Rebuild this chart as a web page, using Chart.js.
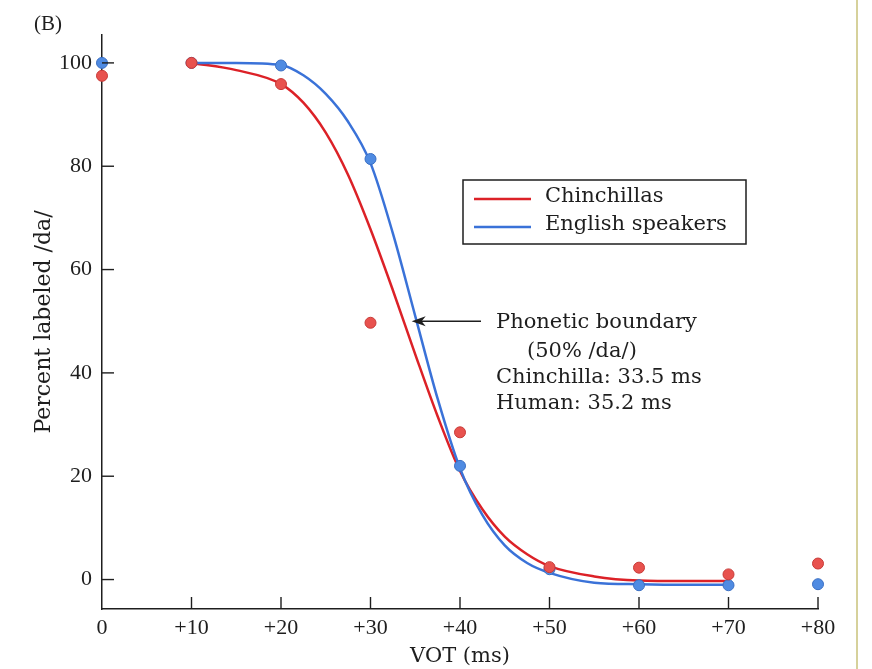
<!DOCTYPE html>
<html>
<head>
<meta charset="utf-8">
<script src="https://cdn.jsdelivr.net/npm/chart.js@4.4.1/dist/chart.umd.min.js"></script>
<style>
  html, body { margin: 0; padding: 0; background: #fff; }
  #wrap { width: 872px; height: 669px; }
</style>
</head>
<body>
<div id="wrap"><canvas id="vot" width="872" height="669"></canvas></div>
<script>
// VOT steps (ms) and % labeled /da/
const vot = [0, 10, 20, 30, 40, 50, 60, 70, 80];
const chinchillaPct = [97.5, 100, 95.9, 49.7, 28.5, 2.4, 2.3, 1.0, 3.1];
const humanPct = [100, 100, 99.5, 81.4, 22.0, 2.0, -1.1, -1.1, -0.9];

// fitted curves
const fitVot = [10, 15, 20, 22.5, 25, 27.5, 30, 32.5, 35, 37.5, 40, 42.5, 45, 47.5, 50, 55, 60, 65, 70];
const chinchillaFit = [100, 98.6, 95.9, 92.3, 86.5, 78.3, 67.8, 56, 43.6, 31.6, 21, 13.6, 8.3, 4.9, 2.6, 0.6, -0.2, -0.3, -0.3];
const humanFit = [100, 100, 99.6, 97.6, 94, 88.6, 80.6, 67, 51, 35, 21.5, 12.5, 6.6, 3.2, 1.3, -0.6, -0.9, -1.0, -1.0];

const xTicks = [0, 10, 20, 30, 40, 50, 60, 70, 80];
const yTicks = [0, 20, 40, 60, 80, 100];
const seriesNames = ['Chinchillas', 'English speakers'];
const noteLines = ['Phonetic boundary', '(50% /da/)', 'Chinchilla: 33.5 ms', 'Human: 35.2 ms'];

const RED = '#dc2127', BLUE = '#3a72d8';
const RED_DOT = '#e8524e', BLUE_DOT = '#4f8be2';
const INK = '#1e1e1e';
const SERIF = "'DejaVu Serif', 'Liberation Serif', serif";
const NUM = "'Liberation Serif', 'DejaVu Serif', serif";

const pts = (xs, ys) => xs.map((v, i) => ({ x: v, y: ys[i] }));

const decor = {
  id: 'decor',
  beforeDraw(chart) {
    const ctx = chart.ctx;
    ctx.save();
    ctx.fillStyle = '#fff';
    ctx.fillRect(0, 0, chart.width, chart.height);
    // page edge on the right
    ctx.strokeStyle = '#c9c27a';
    ctx.lineWidth = 1.5;
    ctx.beginPath();
    ctx.moveTo(857, 0);
    ctx.lineTo(857, chart.height);
    ctx.stroke();
    ctx.restore();
  },
  afterDraw(chart) {
    const { ctx, scales: { x, y } } = chart;
    ctx.save();
    ctx.strokeStyle = INK;
    ctx.lineWidth = 1.4;
    // inward tick marks
    yTicks.forEach(v => {
      const py = y.getPixelForValue(v);
      ctx.beginPath(); ctx.moveTo(x.left, py); ctx.lineTo(x.left + 12, py); ctx.stroke();
    });
    xTicks.slice(1).forEach(v => {
      const px = x.getPixelForValue(v);
      ctx.beginPath(); ctx.moveTo(px, y.bottom); ctx.lineTo(px, y.bottom - 12); ctx.stroke();
    });

    // panel letter
    ctx.fillStyle = INK;
    ctx.font = '21px ' + NUM;
    ctx.textBaseline = 'middle';
    ctx.textAlign = 'left';
    ctx.fillText('(B)', 34, 24);

    // legend box
    ctx.lineWidth = 1.5;
    ctx.strokeRect(463, 180, 283, 64);
    ctx.font = '21px ' + SERIF;
    [RED, BLUE].forEach((c, i) => {
      const ly = 199 + i * 28;
      ctx.strokeStyle = c;
      ctx.lineWidth = 2.5;
      ctx.beginPath(); ctx.moveTo(474, ly); ctx.lineTo(531, ly); ctx.stroke();
      ctx.fillText(seriesNames[i], 545, ly - 2);
    });

    // boundary note with arrow
    const tipX = x.getPixelForValue(34.6), tipY = y.getPixelForValue(50);
    ctx.strokeStyle = INK;
    ctx.fillStyle = INK;
    ctx.lineWidth = 1.3;
    ctx.beginPath(); ctx.moveTo(481, tipY); ctx.lineTo(tipX + 4, tipY); ctx.stroke();
    ctx.beginPath();
    ctx.moveTo(tipX, tipY);
    ctx.lineTo(tipX + 14, tipY - 5);
    ctx.lineTo(tipX + 10, tipY);
    ctx.lineTo(tipX + 14, tipY + 5);
    ctx.closePath();
    ctx.fill();
    ctx.font = '21px ' + SERIF;
    ctx.fillText(noteLines[0], 496, tipY + 1);
    ctx.fillText(noteLines[1], 527, tipY + 30);
    ctx.fillText(noteLines[2], 496, tipY + 56);
    ctx.fillText(noteLines[3], 496, tipY + 82);
    ctx.restore();
  }
};

new Chart(document.getElementById('vot'), {
  type: 'scatter',
  data: {
    datasets: [
      { label: seriesNames[0] + ' data', data: pts(vot, chinchillaPct), backgroundColor: RED_DOT, borderColor: '#c93a37', borderWidth: 1, pointRadius: 5.5, clip: false, order: 0 },
      { label: seriesNames[1] + ' data', data: pts(vot, humanPct), backgroundColor: BLUE_DOT, borderColor: '#3a6fc4', borderWidth: 1, pointRadius: 5.5, clip: false, order: 1 },
      { label: seriesNames[0], data: pts(fitVot, chinchillaFit), showLine: true, borderColor: RED, borderWidth: 2.5, pointRadius: 0, cubicInterpolationMode: 'monotone', order: 3 },
      { label: seriesNames[1], data: pts(fitVot, humanFit), showLine: true, borderColor: BLUE, borderWidth: 2.5, pointRadius: 0, cubicInterpolationMode: 'monotone', order: 2 }
    ]
  },
  options: {
    responsive: false,
    animation: false,
    layout: { padding: { left: 0, top: 35, right: 54, bottom: 0 } },
    plugins: { legend: { display: false }, tooltip: { enabled: false } },
    scales: {
      x: {
        type: 'linear', min: 0, max: 80,
        afterBuildTicks: s => { s.ticks = xTicks.map(v => ({ value: v })); },
        afterFit: s => { s.height = 60; },
        grid: { display: false, drawTicks: false },
        border: { display: true, color: INK, width: 1.5 },
        ticks: { color: INK, font: { family: NUM, size: 22 }, padding: 6, maxRotation: 0,
                 callback: v => (v === 0 ? '0' : '+' + v) },
        title: { display: true, text: 'VOT (ms)', color: INK, font: { family: SERIF, size: 21 }, padding: { top: 0, bottom: 0 } }
      },
      y: {
        type: 'linear', min: -5.7, max: 105.4,
        afterBuildTicks: s => { s.ticks = yTicks.map(v => ({ value: v })); },
        afterFit: s => { s.width = 102; },
        grid: { display: false, drawTicks: false },
        border: { display: true, color: INK, width: 1.5 },
        ticks: { color: INK, font: { family: NUM, size: 22 }, padding: 10 },
        title: { display: true, text: 'Percent labeled /da/', color: INK, font: { family: SERIF, size: 22 }, padding: { top: 31, bottom: 0 } }
      }
    }
  },
  plugins: [decor]
});
</script>
</body>
</html>
